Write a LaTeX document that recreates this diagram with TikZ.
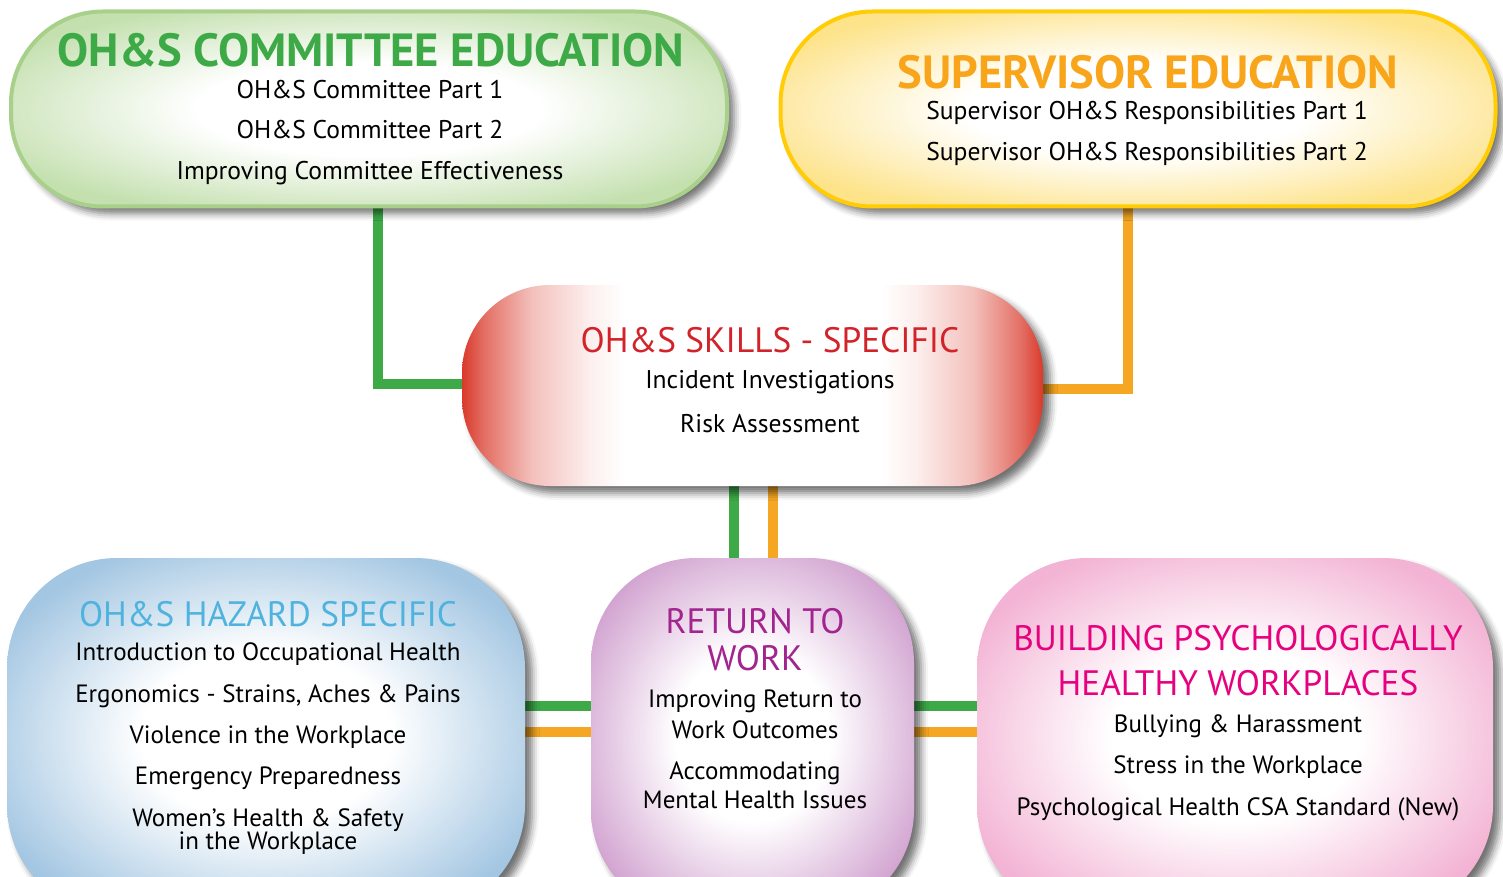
\documentclass[tikz,border=0pt]{standalone}
\usepackage{fontspec}
\setmainfont{PT Sans}
\usetikzlibrary{shadows.blur}
\definecolor{gTitle}{HTML}{3DAA47}
\definecolor{oTitle}{HTML}{F8A51B}
\definecolor{rTitle}{HTML}{D2232A}
\definecolor{bTitle}{HTML}{4FB3DD}
\definecolor{pTitle}{HTML}{A1248F}
\definecolor{kTitle}{HTML}{E6027E}
\definecolor{gLine}{HTML}{3DAA47}
\definecolor{oLine}{HTML}{F5A623}
\definecolor{gEdge}{HTML}{C4E0AF}
\definecolor{gBorder}{HTML}{A8D08A}
\definecolor{yEdge}{HTML}{FDE38A}
\definecolor{yBorder}{HTML}{FFCC05}
\definecolor{rEdge}{HTML}{D93A2B}
\definecolor{bEdge}{HTML}{A3C6E2}
\definecolor{pEdge}{HTML}{D2A4D1}
\definecolor{kEdge}{HTML}{F3B3D4}
\makeatletter
\pgfdeclareradialshading[tikz@radial@inner,tikz@radial@outer]{glow}{\pgfpointorigin}{color(0bp)=(tikz@radial@inner);color(12bp)=(tikz@radial@inner);color(29bp)=(tikz@radial@outer);color(50bp)=(tikz@radial@outer)}
\makeatother
\pgfdeclarehorizontalshading{redglow}{100bp}{color(0bp)=(rEdge);color(25bp)=(rEdge);color(27bp)=(rEdge!72!white);color(31bp)=(rEdge!32!white);color(36bp)=(rEdge!8!white);color(39bp)=(white);color(61bp)=(white);color(64bp)=(rEdge!8!white);color(69bp)=(rEdge!32!white);color(73bp)=(rEdge!72!white);color(75bp)=(rEdge);color(100bp)=(rEdge)}
\tikzset{
  boxshadow/.style={blur shadow={shadow xshift=7pt,shadow yshift=-7pt,shadow blur radius=7pt,shadow opacity=55}},
  glowbox/.style={boxshadow,inner color=white,outer color=#1,shading=glow},
  txt/.style={anchor=base,inner sep=0pt},
  gline/.style={draw=gLine,line width=10pt},
  oline/.style={draw=oLine,line width=10pt},
  ttlA/.style={txt,font=\bfseries\fontsize{46.5}{46.5}\selectfont},
  ttlB/.style={txt,font=\fontsize{35.3}{35.3}\selectfont},
  bodyA/.style={txt,font=\fontsize{25.6}{25.6}\selectfont},
  bodyB/.style={txt,font=\fontsize{25}{25}\selectfont},
}
\begin{document}
\begin{tikzpicture}[x=1pt,y=-1pt]
\useasboundingbox (0,0) rectangle (1503,877);
\clip (0,0) rectangle (1503,877);
% box geometry (coordinates only)
\coordinate (cG) at (369,109);
\coordinate (cY) at (1138,109);
\coordinate (cR) at (752.5,385.5);
\coordinate (cB) at (266,736.5);
\coordinate (cP) at (752.5,736.5);
\coordinate (cK) at (1235,736.5);
% invisible anchors for connectors
\node[minimum width=716pt,minimum height=195pt,inner sep=0pt] (green) at (cG) {};
\node[minimum width=715pt,minimum height=195pt,inner sep=0pt] (yellow) at (cY) {};
\node[minimum width=581pt,minimum height=201pt,inner sep=0pt] (red) at (cR) {};
\node[minimum width=518pt,minimum height=357pt,inner sep=0pt] (blue) at (cB) {};
\node[minimum width=323pt,minimum height=357pt,inner sep=0pt] (purple) at (cP) {};
\node[minimum width=516pt,minimum height=357pt,inner sep=0pt] (pink) at (cK) {};
% connectors
\draw[gline] ([xshift=9pt]green.south) |- ([yshift=1.5pt]red.west);
\draw[oline] ([xshift=-10pt]yellow.south) |- ([yshift=-3.5pt]red.east);
\draw[gline] ([xshift=-19pt]red.south) coordinate (g1) -- (g1 |- purple.north);
\draw[oline] ([xshift=20pt]red.south) coordinate (o1) -- (o1 |- purple.north);
\draw[gline] ([yshift=30.5pt]blue.east) coordinate (g2) -- (g2 -| purple.west);
\draw[oline] ([yshift=5pt]blue.east) coordinate (o2) -- (o2 -| purple.west);
\draw[gline] ([yshift=30.5pt]purple.east) coordinate (g3) -- (g3 -| pink.west);
\draw[oline] ([yshift=5pt]purple.east) coordinate (o3) -- (o3 -| pink.west);
% boxes
\node[glowbox=gEdge,draw=gBorder,line width=4pt,rounded corners=92pt,minimum width=716pt,minimum height=195pt] (greenbox) at (cG) {};
\node[glowbox=yEdge,draw=yBorder,line width=4pt,rounded corners=92pt,minimum width=715pt,minimum height=195pt] (yellowbox) at (cY) {};
\node[boxshadow,shading=redglow,rounded corners=88pt,minimum width=581pt,minimum height=201pt] (redbox) at (cR) {};
\node[glowbox=bEdge,rounded corners=110pt,minimum width=518pt,minimum height=357pt] (bluebox) at (cB) {};
\node[glowbox=pEdge,rounded corners=105pt,minimum width=323pt,minimum height=357pt] (purplebox) at (cP) {};
\node[glowbox=kEdge,rounded corners=110pt,minimum width=516pt,minimum height=357pt] (pinkbox) at (cK) {};
% green texts
\node[ttlA,text=gTitle] (gT) at (371,67) {OH\&S COMMITTEE EDUCATION};
\node[bodyA] (g1t) at (370,99) {OH\&S Committee Part 1};
\node[bodyA] (g2t) at (370,139) {OH\&S Committee Part 2};
\node[bodyA] (g3t) at (370,180) {Improving Committee Effectiveness};
% yellow texts
\node[ttlA,text=oTitle] (yT) at (1148,89) {SUPERVISOR EDUCATION};
\node[bodyA] (y1t) at (1147,120) {Supervisor OH\&S Responsibilities Part 1};
\node[bodyA] (y2t) at (1147,161) {Supervisor OH\&S Responsibilities Part 2};
% red texts
\node[ttlB,text=rTitle] (rT) at (770,352) {OH\&S SKILLS - SPECIFIC};
\node[bodyA] (r1t) at (770,388) {Incident Investigations};
\node[bodyA] (r2t) at (770,432) {Risk Assessment};
% blue texts
\node[ttlB,text=bTitle] (bT) at (268,626) {OH\&S HAZARD SPECIFIC};
\node[bodyB] (b1t) at (268,660) {Introduction to Occupational Health};
\node[bodyB] (b2t) at (268,702) {Ergonomics - Strains, Aches \& Pains};
\node[bodyB] (b3t) at (268,743) {Violence in the Workplace};
\node[bodyB] (b4t) at (268,784) {Emergency Preparedness};
\node[bodyB] (b5t) at (268,826) {Women’s Health \& Safety};
\node[bodyB] (b6t) at (268,849) {in the Workplace};
% purple texts
\node[ttlB,text=pTitle] (pT1) at (755,633) {RETURN TO};
\node[ttlB,text=pTitle] (pT2) at (755,670) {WORK};
\node[bodyB] (p1t) at (755,707) {Improving Return to};
\node[bodyB] (p2t) at (755,738) {Work Outcomes};
\node[bodyB] (p3t) at (755,779) {Accommodating};
\node[bodyB] (p4t) at (755,808) {Mental Health Issues};
% pink texts
\node[ttlB,text=kTitle] (kT1) at (1238,650) {BUILDING PSYCHOLOGICALLY};
\node[ttlB,text=kTitle] (kT2) at (1238,695) {HEALTHY WORKPLACES};
\node[bodyB] (k1t) at (1238,732) {Bullying \& Harassment};
\node[bodyB] (k2t) at (1238,773) {Stress in the Workplace};
\node[bodyB] (k3t) at (1238,815) {Psychological Health CSA Standard (New)};
\end{tikzpicture}
\end{document}
